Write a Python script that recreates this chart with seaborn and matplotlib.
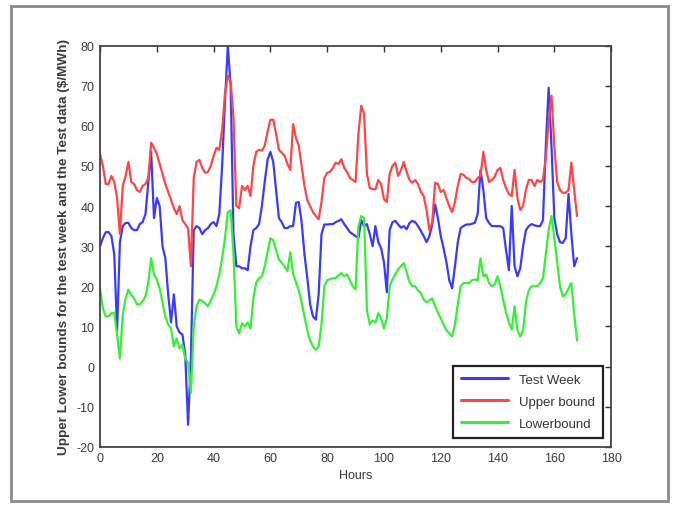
import numpy as np
import pandas as pd
import matplotlib
matplotlib.use("Agg")
import matplotlib.pyplot as plt
from matplotlib.patches import Rectangle
import seaborn as sns

hours = list(range(169))

test_week = [
    30, 32, 33.5, 33.5, 32.5, 28, 9, 31, 35, 35.8,
    35.8, 34.5, 34, 34, 35.5, 36, 38, 46, 53.5, 37,
    42, 40, 30, 27, 18, 11, 18, 10, 8.5, 8,
    3, -14.5, 2, 34, 35, 34.5, 33, 34, 34.5, 35.5,
    36, 35, 38, 50, 66, 80, 70, 33, 25, 25,
    24.5, 24.5, 24, 30, 34, 34.5, 35.5, 40, 46, 51.5,
    53.5, 51, 44, 37, 36, 34.5, 34.5, 35, 35, 40.8,
    41, 36, 28, 22, 15.5, 12.5, 11.7, 18, 33, 35.4,
    35.4, 35.5, 35.5, 36, 36.3, 36.7, 35.5, 34.5, 33.5, 33,
    32.5, 32, 36.5, 35, 35.5, 33, 30, 35, 31, 29.5,
    26, 18.5, 34, 36, 36.3, 35.4, 34.6, 35, 34.2, 35.8,
    36.3, 36, 35, 33.8, 32.5, 31, 32.5, 35.4, 40.4, 37,
    32.5, 29.5, 26, 21.5, 19.5, 25, 31, 34.5, 35, 35.4,
    35.4, 35.6, 35.8, 38, 49, 44, 37, 35.8, 35, 35,
    35, 35, 34.5, 29, 24, 40, 25, 22.5, 24.5, 30,
    34, 35, 35.5, 35.2, 35, 35, 36.5, 55, 69.5, 55,
    37, 33, 31, 30.8, 32, 43, 33, 25, 27,
]

upper_bound = [
    53, 50, 45.5, 45.5, 47.5, 46, 42, 33, 45, 47.5,
    51, 46, 45.5, 44, 43.5, 45, 45.5, 47, 55.8, 54.5,
    53, 50.5, 48, 45.5, 43.5, 41.5, 39.5, 38, 40, 36.5,
    35.5, 34.5, 25, 47, 51, 51.5, 49.5, 48.3, 48.5, 50,
    52.5, 54.5, 54, 59, 68, 72.5, 71, 62, 40, 39.5,
    45, 44, 45, 42.5, 50, 53.5, 54, 53.8, 55, 58.5,
    61.5, 61.5, 58, 54, 53.3, 52.5, 50.5, 49, 60.4, 57,
    55, 50, 45, 41.5, 40, 38.5, 37.5, 36.7, 41, 47,
    48.3, 48.5, 49.5, 50.8, 50.5, 51.7, 49.5, 48.5, 47, 46.5,
    46, 58, 65, 63, 48, 44.5, 44.2, 44.2, 46.5, 45.5,
    41.7, 41, 48, 50, 50.8, 47.5, 49, 51, 48.5, 46.5,
    45.8, 46.5, 45.5, 43.5, 42.5, 39, 34, 36, 45.8, 45.5,
    43.5, 44, 42, 40, 38.5, 41, 45, 48, 47.8, 47,
    46.7, 46, 46, 47, 47.5, 53.5, 49, 46, 46.5, 47.3,
    49, 49.5, 46.5, 44.5, 43, 42.5, 49, 42, 39, 40,
    44, 46.5, 46.5, 45, 46.5, 46, 46.5, 52, 61, 67.5,
    55, 46, 44, 43.3, 43.3, 44, 50.8, 44, 37.5,
]

lower_bound = [
    19.5, 14.5, 12.5, 12.5, 13.3, 13.3, 8, 2, 13, 17,
    19.2, 17.8, 17, 15.5, 15.5, 16.3, 17.5, 21, 27, 23,
    21.7, 19.5, 16, 12.5, 10.5, 9.5, 5, 7, 4.5, 5.5,
    2, 1, -6.5, 10, 15, 16.7, 16.3, 15.8, 15, 16.5,
    18, 20, 23, 27, 32, 38.5, 39, 28, 10, 8.3,
    10.8, 10, 11, 9.5, 17, 21, 22, 22.5, 25, 28.5,
    32, 31.5, 29, 26.7, 25.8, 25, 23.8, 28.5, 23, 21,
    19, 16, 12.5, 9, 6.5, 5, 4.2, 5, 10.5, 20,
    21.5, 21.8, 22, 22, 22.8, 23.3, 22.5, 23, 21.5, 20,
    19.2, 35, 37.5, 37, 14, 10.5, 11.5, 11, 13.3, 12,
    9.5, 12, 20, 21.7, 23, 24.2, 25, 25.8, 23.5, 21,
    20, 20, 19, 18.3, 16.7, 16, 16.5, 17, 15, 13.5,
    12, 10.5, 9, 8.3, 7.5, 10.5, 15.5, 20, 20.8, 20.8,
    20.8, 21.5, 21.7, 21.5, 27, 22.5, 23, 20.8, 20, 20.5,
    22.5, 20, 16.5, 13.5, 11, 9.2, 15, 9, 7.5, 9,
    16, 19, 20, 20, 20, 20.8, 22, 28, 34, 37.5,
    32, 26, 20, 17.5, 18, 19.5, 20.8, 13, 6.5,
]

series_names = ["Test Week", "Upper bound", "Lowerbound"]
series_colors = ["#3a3aff", "#ff4545", "#35f035"]

df = pd.concat([
    pd.DataFrame({"Hours": hours, "value": vals, "series": name})
    for name, vals in zip(series_names, [test_week, upper_bound, lower_bound])
], ignore_index=True)

sns.set_style("white")
plt.rcParams["font.family"] = ["Liberation Sans", "DejaVu Sans"]
plt.rcParams["axes.unicode_minus"] = False

fig = plt.figure(figsize=(6.76, 5.06), dpi=100)
ax = fig.add_axes([0.148, 0.115, 0.756, 0.793])

sns.lineplot(data=df, x="Hours", y="value", hue="series",
             palette=dict(zip(series_names, series_colors)),
             hue_order=series_names, linewidth=1.6, ax=ax, legend=False)

ax.set_xlim(0, 180)
ax.set_ylim(-20, 80)
ax.set_xticks(range(0, 181, 20))
ax.set_yticks(range(-20, 81, 10))
ax.tick_params(direction="in", top=True, right=True, length=4, width=1,
               labelsize=9, labelcolor="#3a3a3a", color="#333333", pad=4)
for sp in ax.spines.values():
    sp.set_visible(True)
    sp.set_color("#444444")
    sp.set_linewidth(1.3)

ax.set_xlabel("Hours", fontsize=9, color="#3a3a3a", labelpad=3)
ax.set_ylabel("Upper Lower bounds for the test week and the Test data ($/MWh)",
              fontsize=9.7, color="#3a3a3a", fontweight="bold", labelpad=5)

handles = [plt.Line2D([], [], color=c, linewidth=2.2) for c in series_colors]
leg = ax.legend(handles, series_names, loc="lower right", fontsize=9.5,
                frameon=True, fancybox=False, framealpha=1,
                edgecolor="#222222", handlelength=3.6, borderpad=0.6,
                labelspacing=0.75, borderaxespad=0,
                bbox_to_anchor=(0.984, 0.022))
leg.get_frame().set_linewidth(1.6)
for t in leg.get_texts():
    t.set_color("#333333")

# outer frame around the whole figure
fig.patches.append(Rectangle((0.016, 0.008), 0.972, 0.978, transform=fig.transFigure,
                             fill=False, edgecolor="#8a8a8a", linewidth=2))

fig.savefig("out.png", dpi=100)
